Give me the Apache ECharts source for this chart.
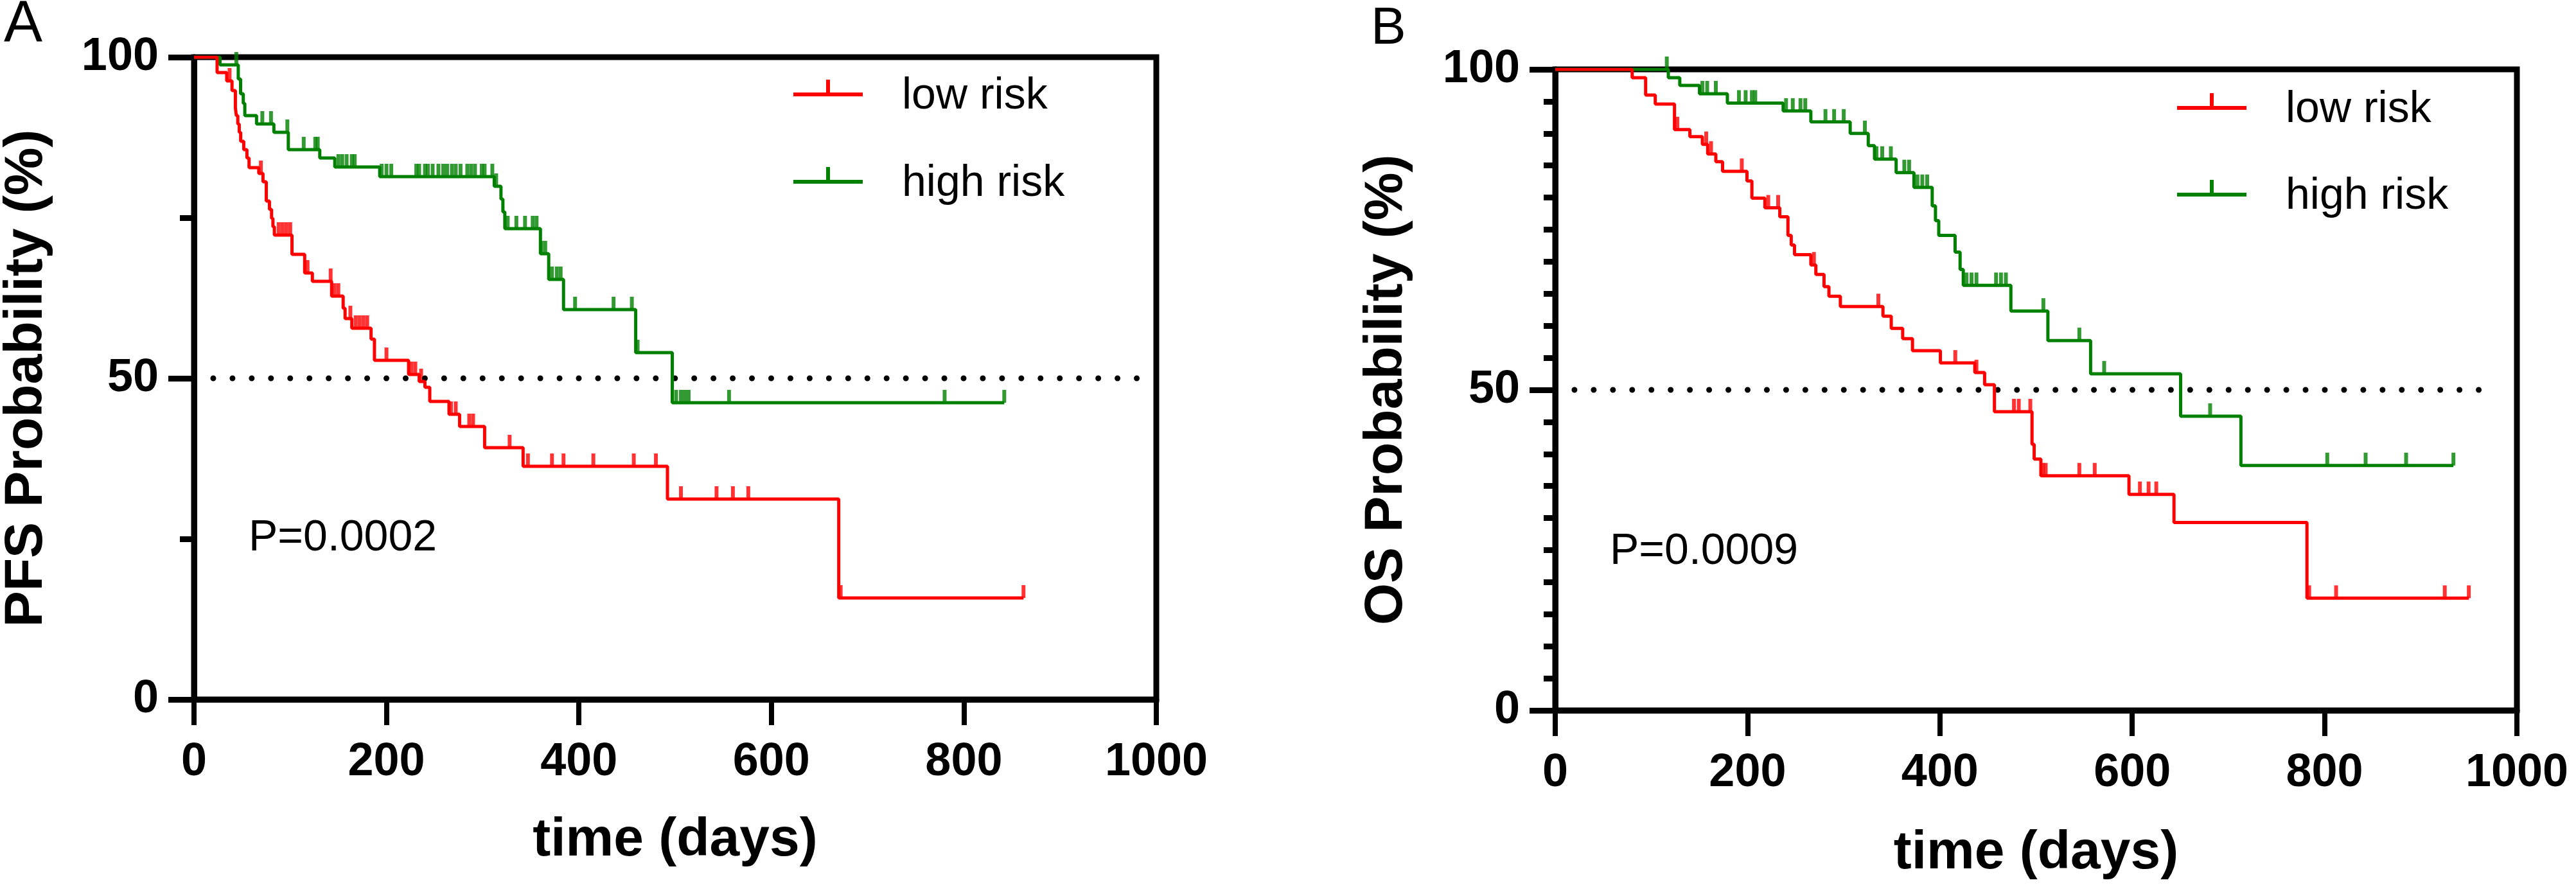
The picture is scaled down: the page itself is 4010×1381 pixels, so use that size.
<!DOCTYPE html>
<html>
<head>
<meta charset="utf-8">
<title>PFS / OS Kaplan-Meier</title>
<script src="https://cdn.jsdelivr.net/npm/echarts@6/dist/echarts.min.js"></script>
<style>
  html, body { margin: 0; padding: 0; background: #fff; }
  #chart { width: 4010px; height: 1381px; }
</style>
</head>
<body>
<div id="chart"></div>
<script>
// axes
const xMax = 1000;
const xStep = 200;
const yStep = 50;
const medianLevel = 50;
const medianSpan = [20, 980];

// A: PFS, low risk (event times in days, survival % after the event)
const pfsLowTimes = [0, 24, 34, 39.5, 43, 44, 45.5, 47, 48.5, 51.7, 55, 57.2, 67.3, 71.7, 75.1, 78.4, 80.6, 82, 83.5,
  101.8, 115, 123, 143, 155, 157, 164, 184, 187.5, 223, 234, 240, 245, 265, 276, 302, 342, 492, 670];
const pfsLowSurv = [100, 97.6, 96.3, 94.8, 92.1, 90.9, 89.6, 88.3, 86.9, 85.6, 84.3, 82.8, 81.9, 80.6, 77.6, 76.3, 74.9, 73.6, 72.3,
  69.3, 66.4, 65.1, 62.8, 60.9, 59.3, 57.8, 56.1, 52.8, 50.6, 49.5, 48.6, 46.4, 44.4, 42.5, 39.2, 36.3, 31.2, 15.8];
const pfsLowCensor = [37, 69.5, 88, 92, 96, 100, 118, 142, 146, 150, 162.5, 168, 172, 176, 180, 200, 226, 230, 236,
  267, 272, 286, 290, 328, 347, 372, 384, 415, 457, 480, 506, 543, 560, 576, 672, 862];

// A: PFS, high risk
const pfsHighTimes = [0, 27, 46, 48.4, 51.2, 52.8, 65, 83, 98, 130.7, 146.3, 193, 312, 319, 321, 323, 360, 368.6, 384, 459, 497];
const pfsHighSurv = [100, 98.8, 96.6, 94.3, 92.8, 90.9, 89.6, 88.3, 85.6, 84.3, 82.9, 81.4, 79.9, 77.9, 75.9, 73.3, 69.4, 65.4, 60.7, 54.0, 46.2];
const pfsHighCensor = [44, 71, 80, 97, 114, 126, 128.6, 150, 154, 158.6, 164, 167, 195, 200, 205, 231, 234, 240, 243, 248,
  254, 259, 263, 268, 272, 277, 284, 288, 292, 299, 302, 310, 314, 326, 335, 344, 352, 356, 361, 365, 372, 377, 381,
  396, 436, 455, 461, 501, 506, 510, 514, 556, 780, 842];

// B: OS, low risk
const osLowTimes = [0, 80, 94, 104, 124, 140, 153, 158.5, 167, 174, 199.4, 204.5, 218, 233.5, 242, 245.4, 248.8, 265.8, 271,
  279.5, 284.6, 296.5, 340.8, 349.4, 361.3, 371.5, 400.5, 436.3, 446.5, 456.7, 495.8, 498, 505, 596.6, 643.4, 781.7];
const osLowSurv = [100, 98.7, 96.0, 94.6, 90.6, 89.5, 88.3, 86.8, 85.6, 84.1, 82.6, 79.9, 78.4, 77.0, 74.1, 72.6, 71.1, 69.5, 68.0,
  66.1, 64.6, 63.0, 61.5, 59.6, 58.0, 56.1, 54.2, 52.7, 50.8, 46.6, 41.5, 39.2, 36.6, 33.7, 29.3, 17.5];
const osLowCensor = [127, 157, 162, 194, 221.5, 231.8, 269, 336, 416, 438, 477, 482, 494, 507, 510, 545, 561,
  608, 617, 625, 784, 812, 925, 950];

// B: OS, high risk
const osHighTimes = [0, 117.6, 129.5, 150, 179, 237, 265.8, 306.7, 325.5, 332, 354.5, 373, 392, 395.4, 398.8, 415.8, 421, 424.3,
  473.8, 512.3, 556.7, 650.3, 713];
const osHighSurv = [100, 98.7, 97.5, 96.2, 94.75, 93.5, 91.8, 90.0, 88.1, 86.0, 83.9, 81.6, 78.7, 76.4, 74.1, 71.5, 68.8, 66.3,
  62.3, 57.7, 52.5, 45.9, 38.2];
const osHighCensor = [116, 153, 158, 167, 191, 198, 204.5, 208, 240, 247, 255, 260, 281, 290, 300, 322, 334, 340, 349,
  363, 368, 376.6, 381.7, 386.8, 427.7, 432.9, 438, 458.4, 463.5, 468.6, 507.6, 545, 570.8, 681, 802.8, 842.7, 884.8, 934];

const groupNames = ['low risk', 'high risk'];
const pValues = ['P=0.0002', 'P=0.0009'];

const FONT = 'Liberation Sans, Arial, sans-serif';
const RED = '#ff0000';
const GREEN = '#008000';
// line with a censor tick; the empty point at the bottom only widens the box so the line sits near the text middle
const LEGEND_ICON = 'path://M0,20 L108,20 L108,26 L0,26 Z M51,0 L57,0 L57,20 L51,20 Z M0,52 L0.001,52 Z';

function stepData(times, surv, censor) {
  const pts = times.map((t, i) => [t, surv[i]]);
  const end = Math.max(times[times.length - 1], ...censor);
  pts.push([end, surv[surv.length - 1]]);
  return pts;
}

function survivalAt(times, surv, t) {
  let s = surv[0];
  for (let i = 0; i < times.length; i++) if (times[i] <= t) s = surv[i];
  return s;
}

function kmSeries(name, color, times, surv, censor, idx) {
  return [
    {
      name, type: 'line', xAxisIndex: idx, yAxisIndex: idx, step: 'end', symbol: 'none',
      silent: true, animation: false,
      lineStyle: { color, width: 5 }, itemStyle: { color },
      data: stepData(times, surv, censor)
    },
    {
      name: name + ' censored', type: 'scatter', xAxisIndex: idx, yAxisIndex: idx,
      symbol: 'rect', symbolSize: [6, 20], symbolOffset: [0, -10],
      silent: true, animation: false, itemStyle: { color },
      data: censor.map(t => [t, survivalAt(times, surv, t)])
    }
  ];
}

function medianSeries(idx) {
  return {
    type: 'line', xAxisIndex: idx, yAxisIndex: idx, symbol: 'none', silent: true, animation: false,
    lineStyle: { color: '#000', width: 9, type: [0, 29.95], cap: 'round' },
    data: medianSpan.map(x => [x, medianLevel])
  };
}

function xAxisFor(idx, gap) {
  return {
    gridIndex: idx, type: 'value', min: 0, max: xMax, interval: xStep,
    name: 'time (days)', nameLocation: 'middle', nameGap: gap,
    nameTextStyle: { fontFamily: FONT, fontSize: 84, fontWeight: 'bold', color: '#000' },
    axisLine: { show: true, onZero: false, lineStyle: { color: '#000', width: 9 } },
    axisTick: { show: true, length: 40, lineStyle: { color: '#000', width: 8 } },
    axisLabel: { margin: 62, fontFamily: FONT, fontSize: 72, fontWeight: 'bold', color: '#000', formatter: v => String(v) },
    splitLine: { show: false }
  };
}

function yAxisFor(idx, name, gap, minorSplit, minorLen) {
  return {
    gridIndex: idx, type: 'value', min: 0, max: 100, interval: yStep,
    name, nameLocation: 'middle', nameGap: gap,
    nameTextStyle: { fontFamily: FONT, fontSize: 84, fontWeight: 'bold', color: '#000' },
    axisLine: { show: true, onZero: false, lineStyle: { color: '#000', width: 9 } },
    axisTick: { show: true, length: 40, lineStyle: { color: '#000', width: 9 } },
    minorTick: { show: true, splitNumber: minorSplit, length: minorLen, lineStyle: { color: '#000', width: 9 } },
    axisLabel: { margin: 55, fontFamily: FONT, fontSize: 72, fontWeight: 'bold', color: '#000', formatter: v => String(v) },
    splitLine: { show: false }, minorSplitLine: { show: false }
  };
}

function legendFor(left, top, gap) {
  return {
    left, top, orient: 'vertical', padding: 0, itemWidth: 108, itemHeight: 52, itemGap: gap,
    selectedMode: false, icon: LEGEND_ICON, data: groupNames,
    textStyle: { fontFamily: FONT, fontSize: 68, color: '#000', padding: [0, 0, 0, 56] }
  };
}

const gridBase = { show: true, borderColor: '#000', borderWidth: 9, backgroundColor: 'transparent', containLabel: false, outerBoundsMode: 'none' };

const chart = echarts.init(document.getElementById('chart'));
chart.setOption({
  backgroundColor: '#fff',
  animation: false,
  grid: [
    { ...gridBase, left: 302, top: 89, width: 1498, height: 1000 },
    { ...gridBase, left: 2421, top: 108, width: 1497, height: 998 }
  ],
  xAxis: [xAxisFor(0, 178), xAxisFor(1, 181)],
  yAxis: [
    yAxisFor(0, 'PFS Probability (%)', 218, 2, 22),
    yAxisFor(1, 'OS Probability (%)', 220, 10, 18)
  ],
  legend: [legendFor(1235, 116, 68), legendFor(3389, 137, 67)],
  graphic: [
    { type: 'text', left: 6, top: -6, style: { text: 'A', font: 'normal 90px ' + FONT, fill: '#000' } },
    { type: 'text', left: 2134, top: 4, style: { text: 'B', font: 'normal 82px ' + FONT, fill: '#000' } },
    { type: 'text', left: 387, top: 804, style: { text: pValues[0], font: 'normal 68px ' + FONT, fill: '#000' } },
    { type: 'text', left: 2506, top: 825, style: { text: pValues[1], font: 'normal 68px ' + FONT, fill: '#000' } }
  ],
  series: [
    medianSeries(0),
    ...kmSeries(groupNames[1], GREEN, pfsHighTimes, pfsHighSurv, pfsHighCensor, 0),
    ...kmSeries(groupNames[0], RED, pfsLowTimes, pfsLowSurv, pfsLowCensor, 0),
    medianSeries(1),
    ...kmSeries(groupNames[1], GREEN, osHighTimes, osHighSurv, osHighCensor, 1),
    ...kmSeries(groupNames[0], RED, osLowTimes, osLowSurv, osLowCensor, 1)
  ]
});
</script>
</body>
</html>
